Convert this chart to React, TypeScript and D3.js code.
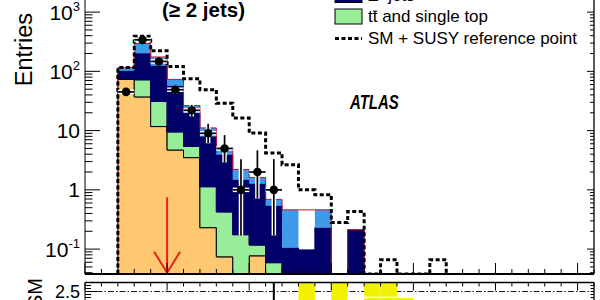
import React from 'react';
import * as d3 from 'd3';

// Effective-mass bins (GeV), 50 GeV wide; lower edges
const binLow = [100, 150, 200, 250, 300, 350, 400, 450, 500, 550, 600, 650, 700, 750, 800, 850, 900, 950, 1000, 1050];
const binWidth = 50;

// Expected Standard Model backgrounds, entries per bin (bins from 100 to 850 GeV)
const multijet = [74, 37, 11.7, 4.7, 3.5, 0.23, 0.074, 0.01, 0.077, 0, 0, 0, 0, 0, 0];
const ttbar = [0, 35, 19.3, 4.8, 1.9, 0.9, 0.35, 0.165, 0.04, 0.059, 0, 0, 0, 0, 0];
const zjets = [28, 130, 93, 47.5, 14.6, 6.8, 3.5, 1.3, 1.15, 0.48, 0.105, 0.097, 0.23, 0, 0.212];
const wjets = [14, 93, 49, 15, 6.2, 3.1, 1.17, 0.7, 0.33, 0.14, 0.355, 0, 0.23, 0, 0];
const smTotal = [116, 295, 175, 73, 26.5, 11.1, 5.1, 2.2, 1.62, 0.69, 0.46, 0.46, 0.46, 0, 0.212];

// SM + SUSY reference point (bins from 100 to 1100 GeV)
const smPlusSusy = [116, 391, 222, 121, 75, 49, 29, 16.3, 9.1, 4.2, 2.65, 1.0, 0.83, 0.28, 0.43, 0, 0.066, 0, 0, 0.066];

// Observed events with their 68% Poisson intervals
const dataCounts = [45, 340, 147, 49, 22, 9, 5, 1, 2, 1];
const dataLow = [38.5, 322, 135, 42, 17.4, 6.1, 2.9, 0.17, 0.71, 0.17];
const dataHigh = [52, 359, 159, 56.5, 27.2, 13.1, 8.4, 3.3, 4.64, 3.3];

// Data / SM ratio points
const ratioValue = [0.39, 1.15, 0.84, 0.67, 0.83, 0.81, 0.98, 0.45, 1.23, 1.45];
const ratioHigh = [0.45, 1.22, 0.91, 0.77, 1.03, 1.18, 1.65, 1.5, 2.1, 4.8];

// Shaded band in the ratio panel
const bandBin = [650, 750, 850, 900, 850, 900, 950];
const bandLow = [1.9, 1.9, 2.33, 2.33, 1.6, 1.6, 1.6];
const bandHigh = [3.2, 3.2, 3.2, 3.2, 2.28, 2.28, 2.28];

// Log-axis decades and their labels (mantissa, exponent)
const yMajor = [0.1, 1, 10, 100, 1000];
const yMajorBase = ['10', '1', '10', '10', '10'];
const yMajorExp = ['-1', '', '', '2', '3'];

const cutValue = 250;
const ratioLabelValue = 2.5;

const FONT = 'Liberation Sans, Arial, Helvetica, sans-serif';
const C_MULTIJET = '#fec870';
const C_TTBAR = '#98ee98';
const C_ZJETS = '#000068';
const C_WJETS = '#3f9bea';
const C_TOTAL = '#c8102e';

export default function App() {
  const left = 85;
  const right = 594;
  const bottom = 274;
  const decadePx = 59.25;
  const yMin = 0.038;
  const yMax = 3000;

  const x = d3.scaleLinear().domain([0, 1550]).range([left, right]);
  const y = d3
    .scaleLog()
    .domain([yMin, yMax])
    .range([bottom, bottom - decadePx * Math.log10(yMax / yMin)])
    .clamp(true);
  const yv = (v: number) => y(Math.max(v, 1e-6));

  const ratioTop = 282.5;
  const r = d3.scaleLinear().domain([0, 2.8]).range([ratioTop + 84, ratioTop]).clamp(true);

  // cumulative stack
  const comps = [multijet, ttbar, zjets, wjets];
  const colors = [C_MULTIJET, C_TTBAR, C_ZJETS, C_WJETS];
  const strokes = ['#000', '#000', C_ZJETS, 'none'];
  const nStack = multijet.length;
  const cum: number[][] = [];
  let prev = new Array(nStack).fill(0);
  comps.forEach((c) => {
    const next = prev.map((p, i) => p + c[i]);
    cum.push(next);
    prev = next;
  });

  type P = [number, number, number];
  const area = d3
    .area<P>()
    .x((d) => x(d[0]))
    .y0((d) => yv(d[1]))
    .y1((d) => yv(d[2]))
    .curve(d3.curveStepAfter);

  const stackAreas = comps.map((_, k) => {
    const lo = k === 0 ? new Array(nStack).fill(0) : cum[k - 1];
    const hi = cum[k];
    const pts: P[] = lo.map((l, i) => [binLow[i], l, hi[i]] as P);
    pts.push([binLow[nStack - 1] + binWidth, lo[nStack - 1], hi[nStack - 1]]);
    return area(pts) || '';
  });

  const stepLine = d3
    .line<[number, number]>()
    .x((d) => x(d[0]))
    .y((d) => yv(d[1]))
    .curve(d3.curveStepAfter);
  const histPath = (vals: number[]) => {
    const pts: [number, number][] = [[binLow[0], 0]];
    vals.forEach((v, i) => pts.push([binLow[i], v]));
    pts.push([binLow[vals.length - 1] + binWidth, 0]);
    return stepLine(pts) || '';
  };

  const xTicks = d3.range(0, 1551, 50);
  const yMinor: number[] = [];
  [0.01, 0.1, 1, 10, 100, 1000].forEach((d) => {
    for (let k = 2; k <= 9; k++) {
      const v = d * k;
      if (v > yMin && v < yMax) yMinor.push(v);
    }
  });
  const rMinor = d3.range(2.2, 2.81, 0.1);

  const arrowX = x(cutValue);
  const arrowTop = yv(0.75);
  const arrowTip = yv(0.04);

  return (
    <div style={{ position: 'absolute', left: 0, top: 0, width: 600, height: 300, background: '#fff' }}>
      <svg width={600} height={300} style={{ display: 'block' }} fontFamily={FONT}>
        <defs>
          <clipPath id="mainClip">
            <rect x={left} y={-40} width={right - left} height={bottom + 40} />
          </clipPath>
          <clipPath id="ratioClip">
            <rect x={left} y={ratioTop} width={right - left} height={100} />
          </clipPath>
        </defs>

        <g clipPath="url(#mainClip)">
          {stackAreas.map((d, k) => (
            <path key={k} d={d} fill={colors[k]} stroke={strokes[k]} strokeWidth={1} />
          ))}
          <path d={histPath(smTotal)} fill="none" stroke={C_TOTAL} strokeWidth={1} />
          <path
            d={histPath(smPlusSusy)}
            fill="none"
            stroke="#000"
            strokeWidth={3}
            strokeDasharray="4,2.5"
          />
          {dataCounts.map((n, i) => {
            const x0 = x(binLow[i]);
            const x1 = x(binLow[i] + binWidth);
            const cx = x(binLow[i] + binWidth / 2);
            const cy = yv(n);
            return (
              <g key={i}>
                <line x1={x0} x2={x1} y1={cy} y2={cy} stroke="#fff" strokeWidth={4.5} />
                <line x1={cx} x2={cx} y1={yv(dataLow[i])} y2={yv(dataHigh[i])} stroke="#fff" strokeWidth={4.5} />
                <line x1={x0} x2={x1} y1={cy} y2={cy} stroke="#000" strokeWidth={1.7} />
                <line x1={cx} x2={cx} y1={yv(dataLow[i])} y2={yv(dataHigh[i])} stroke="#000" strokeWidth={1.7} />
                <circle cx={cx} cy={cy} r={4.3} fill="#000" />
              </g>
            );
          })}
          {/* selection cut */}
          <g stroke="#e8231a" strokeWidth={2} fill="none">
            <line x1={arrowX} x2={arrowX} y1={arrowTop} y2={arrowTip} />
            <polyline points={`${arrowX - 13},${arrowTip - 21} ${arrowX},${arrowTip} ${arrowX + 13},${arrowTip - 21}`} />
          </g>
        </g>

        {/* main frame and axes */}
        <g stroke="#000" fill="none">
          <line x1={left} x2={left} y1={-10} y2={bottom} strokeWidth={1} />
          <line x1={right} x2={right} y1={-10} y2={bottom} strokeWidth={1.3} />
          <line x1={left} x2={right} y1={bottom} y2={bottom} strokeWidth={1.8} />
          {xTicks.map((t) => (
            <line key={t} x1={x(t)} x2={x(t)} y1={bottom} y2={bottom - (t % 250 === 0 ? 11 : 5)} strokeWidth={1} />
          ))}
          {yMajor.map((v) => (
            <g key={v}>
              <line x1={left} x2={left + 15} y1={yv(v)} y2={yv(v)} strokeWidth={1} />
              <line x1={right} x2={right - 7} y1={yv(v)} y2={yv(v)} strokeWidth={1} />
            </g>
          ))}
          {yMinor.map((v) => (
            <g key={v}>
              <line x1={left} x2={left + 7.5} y1={yv(v)} y2={yv(v)} strokeWidth={1} />
              <line x1={right} x2={right - 4} y1={yv(v)} y2={yv(v)} strokeWidth={1} />
            </g>
          ))}
        </g>

        {yMajor.map((v, i) => (
          <text key={v} x={80} y={yv(v) + 7.5} textAnchor="end" fontSize={21} fill="#000">
            {yMajorBase[i]}
            {yMajorExp[i] && (
              <tspan fontSize={13} dy={-9}>
                {yMajorExp[i]}
              </tspan>
            )}
          </text>
        ))}

        <text transform="translate(32,13) rotate(-90)" textAnchor="end" fontSize={23.5} fill="#000">
          Entries
        </text>

        <text x={162} y={17} fontSize={20.5} fontWeight="bold" fill="#000">
          (≥ 2 jets)
        </text>
        <text
          transform="translate(350,109) scale(0.88,1.15)"
          fontSize={17}
          fontWeight="bold"
          fontStyle="italic"
          fill="#000"
        >
          ATLAS
        </text>

        {/* legend */}
        <g>
          <rect x={335} y={-12.5} width={27} height={15} fill={C_ZJETS} stroke="#000" strokeWidth={1} />
          <text x={368} y={0.5} fontSize={17} fill="#000">Z+jets</text>
          <rect x={335} y={9} width={27} height={15} fill={C_TTBAR} stroke="#000" strokeWidth={1} />
          <text x={368} y={22} fontSize={17} fill="#000">tt and single top</text>
          <line x1={373} x2={377.3} y1={11.2} y2={11.2} stroke="#000" strokeWidth={1} />
          <line x1={335} x2={362} y1={38.5} y2={38.5} stroke="#000" strokeWidth={3} strokeDasharray="4,2.5" />
          <text x={368} y={44} fontSize={17} fill="#000">SM + SUSY reference point</text>
        </g>

        {/* ratio panel */}
        <line x1={left} x2={right} y1={r(ratioLabelValue)} y2={r(ratioLabelValue)} stroke="#000" strokeWidth={0.9} strokeDasharray="6,2,1.5,2" />
        <g clipPath="url(#ratioClip)">
          {bandBin.map((b, i) => (
            <rect
              key={i}
              x={x(b)}
              width={x(b + binWidth) - x(b)}
              y={r(bandHigh[i])}
              height={r(bandLow[i]) - r(bandHigh[i])}
              fill="#f2f200"
            />
          ))}
          {ratioValue.map((v, i) => {
            const cx = x(binLow[i] + binWidth / 2);
            return (
              <g key={i}>
                <line x1={cx} x2={cx} y1={r(v)} y2={r(ratioHigh[i])} stroke="#000" strokeWidth={2} />
                <circle cx={cx} cy={r(v)} r={4} fill="#000" />
              </g>
            );
          })}
        </g>
        <g stroke="#000" fill="none">
          <line x1={left} x2={right} y1={ratioTop} y2={ratioTop} strokeWidth={1.3} />
          <line x1={left} x2={left} y1={ratioTop} y2={300} strokeWidth={1} />
          <line x1={right} x2={right} y1={ratioTop} y2={300} strokeWidth={1.3} />
          {xTicks.map((t) => (
            <line key={t} x1={x(t)} x2={x(t)} y1={ratioTop} y2={ratioTop + (t % 250 === 0 ? 8 : 4)} strokeWidth={1} />
          ))}
          {rMinor.map((v) => (
            <g key={v}>
              <line x1={left} x2={left + 6} y1={r(v)} y2={r(v)} strokeWidth={1} />
              <line x1={right} x2={right - 3.5} y1={r(v)} y2={r(v)} strokeWidth={1} />
            </g>
          ))}
          <line x1={left} x2={left + 12} y1={r(ratioLabelValue)} y2={r(ratioLabelValue)} strokeWidth={1} />
        </g>
        <text x={80} y={r(ratioLabelValue) + 6.5} textAnchor="end" fontSize={18} fill="#000">
          {ratioLabelValue.toFixed(1)}
        </text>
        <text transform="translate(42,278) rotate(-90)" textAnchor="end" fontSize={20} fill="#000">
          Data / SM
        </text>
      </svg>
    </div>
  );
}
